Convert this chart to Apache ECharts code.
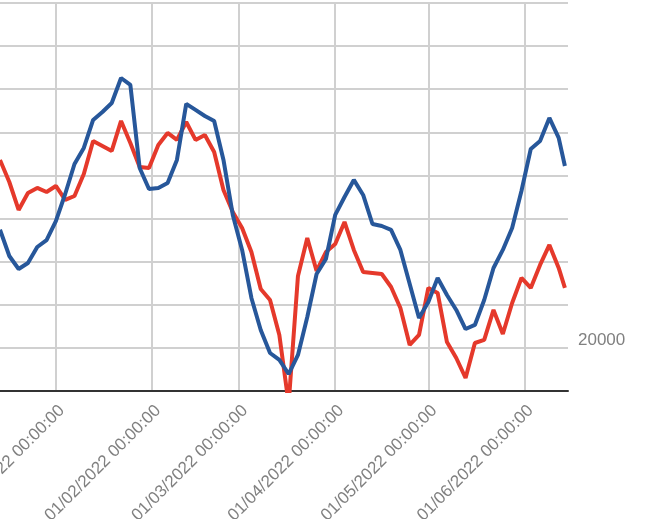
<!DOCTYPE html>
<html>
<head>
<meta charset="utf-8">
<script src="https://cdn.jsdelivr.net/npm/echarts@6/dist/echarts.min.js"></script>
<style>
  html, body { margin: 0; padding: 0; background: #fff; }
  #chart { width: 647px; height: 519px; }
</style>
</head>
<body>
<div id="chart"></div>
<script>
// sample dates (every 3 days)
var dates = [
  '2021-12-14', '2021-12-17', '2021-12-20', '2021-12-23', '2021-12-26', '2021-12-29',
  '2022-01-01', '2022-01-04', '2022-01-07', '2022-01-10', '2022-01-13', '2022-01-16',
  '2022-01-19', '2022-01-22', '2022-01-25', '2022-01-28', '2022-01-31', '2022-02-03',
  '2022-02-06', '2022-02-09', '2022-02-12', '2022-02-15', '2022-02-18', '2022-02-21',
  '2022-02-24', '2022-02-27', '2022-03-02', '2022-03-05', '2022-03-08', '2022-03-11',
  '2022-03-14', '2022-03-17', '2022-03-20', '2022-03-23', '2022-03-26', '2022-03-29',
  '2022-04-01', '2022-04-04', '2022-04-07', '2022-04-10', '2022-04-13', '2022-04-16',
  '2022-04-19', '2022-04-22', '2022-04-25', '2022-04-28', '2022-05-01', '2022-05-04',
  '2022-05-07', '2022-05-10', '2022-05-13', '2022-05-16', '2022-05-19', '2022-05-22',
  '2022-05-25', '2022-05-28', '2022-05-31', '2022-06-03', '2022-06-06', '2022-06-09',
  '2022-06-12', '2022-06-14'
];

var redValues = [
  41800, 39240, 36000, 37970, 38550, 38080,
  38780, 37160, 37620, 40170, 44000, 43420,
  42840, 46320, 43770, 40980, 40870, 43540,
  44930, 44120, 46200, 44120, 44700, 42720,
  38320, 35760, 33900, 31120, 26830, 25560,
  21500, 13500, 28340, 32750, 28920, 31120,
  32050, 34600, 31360, 28800, 28690, 28570,
  27060, 24630, 20340, 21500, 26950, 26370,
  20680, 18830, 16510, 20570, 20920, 24400,
  21610, 25210, 28110, 26950, 29620, 31940,
  29270, 26950
];

var blueValues = [
  33700, 30660, 29150, 29850, 31700, 32500,
  34700, 37850, 41330, 43190, 46440, 47360,
  48400, 51300, 50500, 40870, 38430, 38550,
  39130, 41800, 48300, 47600, 46900, 46320,
  41800, 35420, 31360, 25790, 22080, 19410,
  18600, 16970, 19180, 23580, 28570, 30310,
  35420, 37500, 39480, 37740, 34370, 34140,
  33680, 31360, 27410, 23470, 25320, 28110,
  26140, 24400, 22190, 22660, 25560, 29270,
  31360, 33900, 38200, 43070, 44000, 46670,
  44350, 41100
];

// x axis month ticks
var monthTicks = ['2022-01-01', '2022-02-01', '2022-03-01', '2022-04-01', '2022-05-01', '2022-06-01'];

function toTime(s) {
  return new Date(s + 'T00:00:00').getTime();
}

function pairs(vals) {
  return dates.map(function (d, i) { return [toTime(d), vals[i]]; });
}

var tickTimes = monthTicks.map(toTime);

var chart = echarts.init(document.getElementById('chart'));
chart.setOption({
  animation: false,
  grid: { left: 0, right: 79, top: 3, bottom: 128, containLabel: false, outerBoundsMode: 'none' },
  xAxis: {
    type: 'value',
    min: toTime('2021-12-14'),
    max: toTime('2022-06-15'),
    axisLine: { show: true, onZero: false, lineStyle: { color: '#333', width: 2 } },
    axisTick: { show: false, customValues: tickTimes },
    axisLabel: {
      customValues: tickTimes,
      rotate: 45,
      margin: 11,
      color: '#808080',
      fontSize: 17,
      verticalAlign: 'top',
      fontFamily: 'Liberation Sans, Arial, sans-serif',
      formatter: function (v) {
        return echarts.time.format(v, '{dd}/{MM}/{yyyy} {HH}:{mm}:{ss}', false);
      }
    },
    splitLine: { show: true, lineStyle: { color: '#d0d0d0', width: 2 } }
  },
  yAxis: {
    type: 'value',
    position: 'right',
    min: 15000,
    max: 60000,
    interval: 5000,
    axisLine: { show: false },
    axisTick: { show: false },
    axisLabel: {
      margin: 10,
      color: '#808080',
      fontSize: 17,
      lineHeight: 15,
      fontFamily: 'Liberation Sans, Arial, sans-serif',
      verticalAlign: 'bottom',
      formatter: function (v) { return v === 20000 ? '20000' : ''; }
    },
    splitLine: { show: true, lineStyle: { color: '#d0d0d0', width: 2 } }
  },
  series: [
    {
      name: 'red',
      type: 'line',
      data: pairs(redValues),
      showSymbol: false,
      symbol: 'none',
      clip: true,
      lineStyle: { color: '#e5392b', width: 4 }
    },
    {
      name: 'blue',
      type: 'line',
      data: pairs(blueValues),
      showSymbol: false,
      symbol: 'none',
      clip: true,
      lineStyle: { color: '#27579a', width: 4 }
    }
  ]
});
</script>
</body>
</html>
